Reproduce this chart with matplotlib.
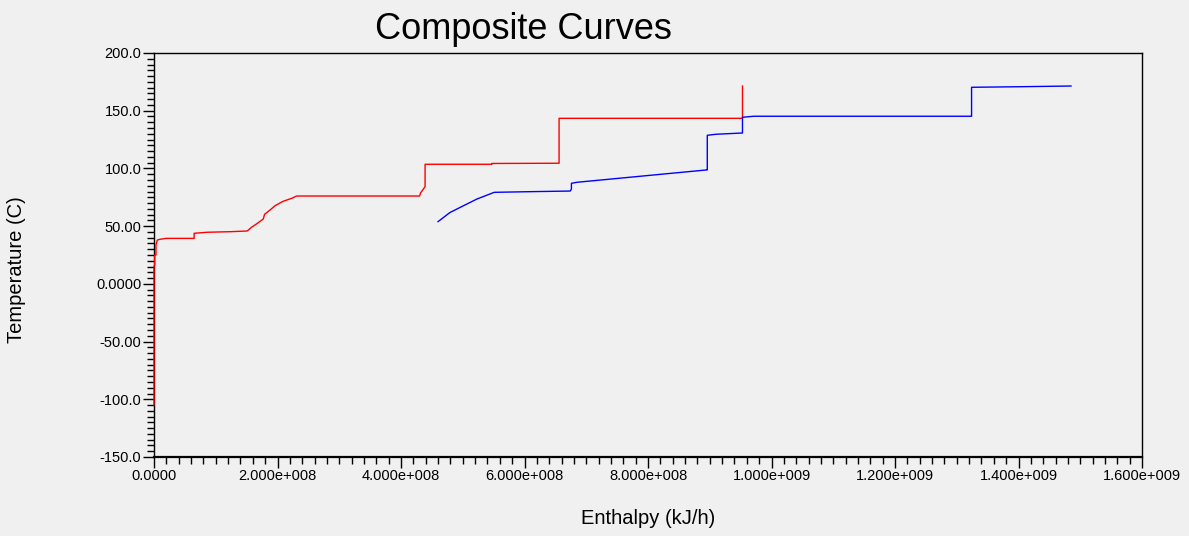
import matplotlib
matplotlib.use("Agg")
import matplotlib.pyplot as plt
from matplotlib.ticker import MultipleLocator, FixedLocator

# Hot composite (red)
hot_h = [0, 0, 1.1e6, 1.1e6, 3.2e6, 3.2e6, 5.4e6, 9.7e6, 1.94e7, 6.5e7, 6.5e7, 8.6e7,
         1.24e8, 1.51e8, 1.58e8, 1.66e8, 1.77e8, 1.79e8, 1.88e8, 1.96e8, 2.09e8, 2.23e8,
         2.31e8, 4.30e8, 4.32e8, 4.39e8, 4.39e8, 5.47e8, 5.47e8, 6.56e8, 6.56e8, 9.53e8, 9.53e8]
hot_t = [-105, 15, 16.5, 25, 25, 33.7, 38.0, 38.6, 39.4, 39.4, 43.8, 44.7,
         45.2, 45.8, 49.0, 51.9, 56.2, 60.2, 64.0, 67.7, 71.5, 74.1,
         76.1, 76.1, 79.0, 84.2, 103.6, 103.6, 104.3, 104.5, 143.4, 143.4, 171.4]

# Cold composite (blue)
cold_h = [4.60e8, 4.79e8, 4.96e8, 5.23e8, 5.51e8, 6.13e8, 6.74e8, 6.76e8, 6.76e8, 6.85e8,
          8.95e8, 8.96e8, 8.96e8, 9.10e8, 9.53e8, 9.53e8, 9.71e8, 1.324e9, 1.324e9,
          1.404e9, 1.485e9]
cold_t = [53.9, 61.7, 66.3, 73.5, 79.3, 79.9, 80.4, 82.1, 87.1, 88.0,
          98.7, 98.7, 128.7, 129.6, 130.7, 144.3, 145.2, 145.2, 170.3,
          170.8, 171.4]

x_ticks = [0, 2e8, 4e8, 6e8, 8e8, 1.0e9, 1.2e9, 1.4e9, 1.6e9]
x_labels = ["0.0000", "2.000e+008", "4.000e+008", "6.000e+008", "8.000e+008",
            "1.000e+009", "1.200e+009", "1.400e+009", "1.600e+009"]
y_ticks = [-150, -100, -50, 0, 50, 100, 150, 200]
y_labels = ["-150.0", "-100.0", "-50.00", "0.0000", "50.00", "100.0", "150.0", "200.0"]

plt.rcParams['font.family'] = ['Liberation Sans', 'DejaVu Sans']
bg = "#f0f0f0"
W, H = 1189, 536
fig = plt.figure(figsize=(W / 100, H / 100), dpi=100, facecolor=bg)
ax = fig.add_axes([154 / W, (H - 457) / H, 988 / W, 404 / H], facecolor=bg)

ax.plot(hot_h, hot_t, color="#ff0000", lw=1.0, zorder=5, clip_on=False)
ax.plot(cold_h, cold_t, color="#0000ff", lw=1.0, zorder=5, clip_on=False)

ax.set_xlim(0, 1.6e9)
ax.set_ylim(-150, 200)
ax.xaxis.set_major_locator(FixedLocator(x_ticks))
ax.set_xticklabels(x_labels)
ax.yaxis.set_major_locator(FixedLocator(y_ticks))
ax.set_yticklabels(y_labels)
ax.xaxis.set_minor_locator(MultipleLocator(2e7))
ax.yaxis.set_minor_locator(MultipleLocator(5))
ax.tick_params(which="major", direction="out", length=8, width=1, colors="black",
               labelsize=10.5, pad=1)
ax.tick_params(which="minor", direction="out", length=5, width=1, colors="black")
for s in ax.spines.values():
    s.set_color("black")
    s.set_linewidth(1.0)
ax.spines["bottom"].set_linewidth(1.6)

ax.set_xlabel("Enthalpy (kJ/h)", fontsize=14.5)
ax.set_ylabel("Temperature (C)", fontsize=14.5)
ax.xaxis.set_label_coords((648 - 154) / 988, -(518 - 457) / 404)
ax.yaxis.set_label_coords(-(154 - 17) / 988, (457 - 270) / 404)
ax.xaxis.label.set_va("center")
ax.yaxis.label.set_va("center")
fig.text(523 / W, 1 - 39 / H, "Composite Curves", fontsize=26, ha="center", va="baseline")

fig.savefig("out.png", dpi=100, facecolor=bg)
